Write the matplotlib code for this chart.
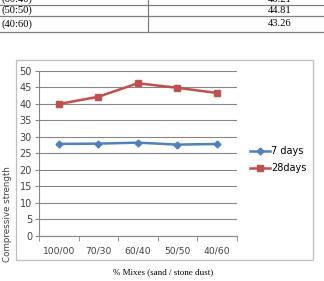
import matplotlib
matplotlib.use("Agg")
import matplotlib.pyplot as plt
from matplotlib.lines import Line2D
from matplotlib.patches import Rectangle

# data
mixes = ["100/00", "70/30", "60/40", "50/50", "40/60"]
days7 = [27.8, 27.9, 28.2, 27.6, 27.8]
days28 = [39.9, 42.1, 46.2, 44.81, 43.26]
table_rows = ["(60:40)", "(50:50)", "(40:60)"]
table_vals = ["46.21", "44.81", "43.26"]

W, H = 324, 281
fig = plt.figure(figsize=(W / 100, H / 100), dpi=100)

# overlay in pixel coords for table and chart frame
bg = fig.add_axes([0, 0, 1, 1])
bg.set_xlim(0, W)
bg.set_ylim(H, 0)
bg.axis("off")
for y in [4.7, 15.8, 31.7]:
    bg.add_line(Line2D([0, W], [y, y], color="#7f7f7f", lw=0.9))
bg.add_line(Line2D([148, 148], [0, 31.7], color="#7f7f7f", lw=0.9))
row_y = [-1.0, 10.3, 23.8]
for lab, val, y in zip(table_rows, table_vals, row_y):
    bg.text(1.5, y, lab, family="Liberation Serif", fontsize=7.6, va="center", ha="left")
    bg.text(280, y, val, family="Liberation Serif", fontsize=7.6, va="center", ha="center")
bg.add_patch(Rectangle((15.7, 59.7), 297, 200.3, fill=False, ec="#bfbfbf", lw=0.9))
bg.text(163, 272, "% Mixes (sand / stone dust)", family="Liberation Serif",
        fontsize=6.5, ha="center", va="center")
bg.text(8, 214, "Compressive strength", rotation=90, fontsize=6.3,
        family="DejaVu Sans", ha="center", va="center", color="#404040")

# chart
ax = fig.add_axes([39 / W, (H - 235.7) / H, 197.7 / W, 165 / H])
x = list(range(len(mixes)))
ax.plot(x, days7, color="#4f81bd", marker="D", ms=3.5, lw=1.8, label="7 days")
ax.plot(x, days28, color="#c0504d", marker="s", ms=5, lw=1.8, label="28days")
ax.set_xlim(-0.5, len(mixes) - 0.5)
ax.set_ylim(0, 50)
ax.set_yticks(range(0, 51, 5))
ax.set_xticks(x)
ax.set_xticklabels(mixes)
ax.set_xticks([i - 0.5 for i in range(len(mixes) + 1)], minor=True)
ax.tick_params(axis="x", which="major", length=0, labelsize=6.6, pad=8, colors="#404040")
ax.tick_params(axis="x", which="minor", length=3.5, color="#868686")
ax.tick_params(axis="y", length=3, color="#868686", labelsize=7, pad=2, colors="#404040")
ax.grid(axis="y", color="#868686", lw=0.8)
ax.set_axisbelow(True)
for s in ["top", "right"]:
    ax.spines[s].set_visible(False)
ax.spines["left"].set_color("#868686")
ax.spines["bottom"].set_color("#868686")
ax.patch.set_alpha(0)

ax.legend(loc="center left", bbox_to_anchor=(1.025, 0.46), frameon=False,
          fontsize=7, handlelength=2.0, handletextpad=0.1, labelspacing=0.75)

fig.savefig("out.png", dpi=100)
